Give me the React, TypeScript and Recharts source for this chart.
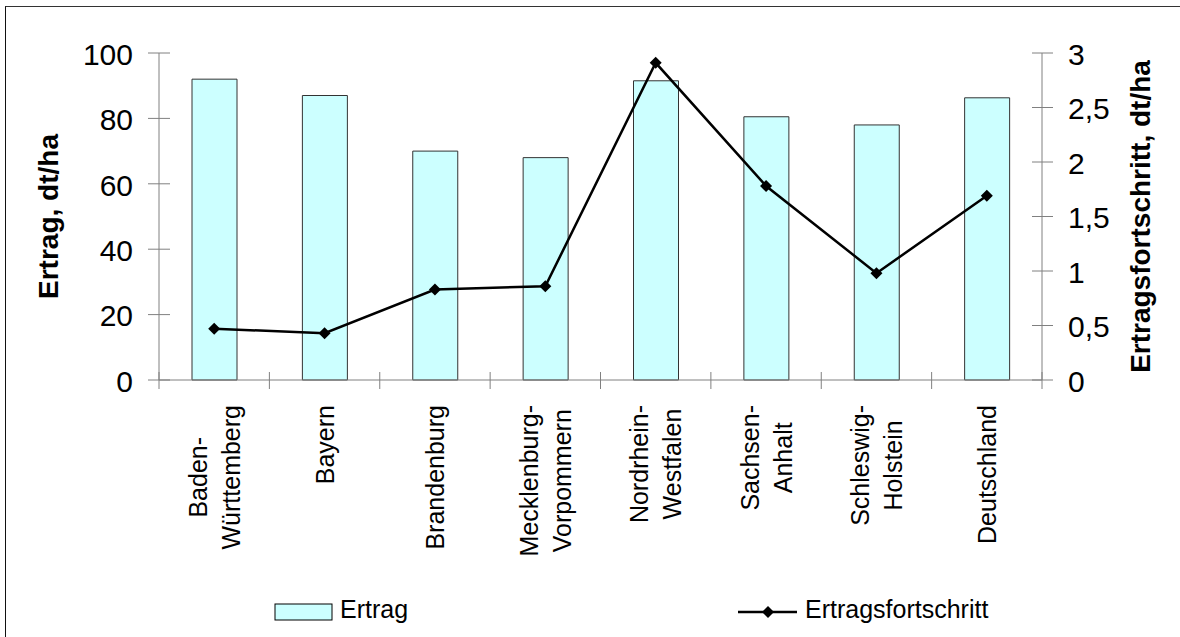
import React from 'react';
import {ComposedChart, Bar, Line, XAxis, YAxis, Legend} from 'recharts';

const states = [
    'Baden-Württemberg',
    'Bayern',
    'Brandenburg',
    'Mecklenburg-Vorpommern',
    'Nordrhein-Westfalen',
    'Sachsen-Anhalt',
    'Schleswig-Holstein',
    'Deutschland',
];
const ertrag = [92, 87, 70, 68, 91.5, 80.5, 78, 86.3];
const fortschritt = [0.47, 0.43, 0.83, 0.86, 2.91, 1.78, 0.98, 1.69];
const leftTicks = [0, 20, 40, 60, 80, 100];
const rightTicks = [0, 0.5, 1, 1.5, 2, 2.5, 3];

const W = 1180;
const H = 637;
const PLOT_LEFT = 159;
const PLOT_RIGHT = 1042;
const PLOT_TOP = 53;
const PLOT_BOTTOM = 380;
const BAND = (PLOT_RIGHT - PLOT_LEFT) / states.length;
const FONT = '"Liberation Sans", Arial, sans-serif';
const AXIS_COLOR = '#808080';
const TICK_FONT = 30;

const data = states.map((name, i) => ({name, ertrag: ertrag[i], fortschritt: fortschritt[i]}));

const fmt = (v: number) => String(v).replace('.', ',');

let canvas: HTMLCanvasElement | null = null;
const measure = (text: string, size: number) => {
    if (!canvas) canvas = document.createElement('canvas');
    const ctx = canvas.getContext('2d')!;
    ctx.font = `${size}px "Liberation Sans"`;
    return ctx.measureText(text).width;
};

const LeftTick = (props: any) => {
    const {y, payload} = props;
    return (
        <g>
            <line x1={PLOT_LEFT - 11} x2={PLOT_LEFT + 11} y1={y} y2={y} stroke={AXIS_COLOR} strokeWidth={1}/>
            <text x={PLOT_LEFT - 26} y={y + 1} dy="0.36em" textAnchor="end" fontSize={TICK_FONT} fontFamily={FONT} fill="#000">
                {payload.value}
            </text>
        </g>
    );
};

const RightTick = (props: any) => {
    const {y, payload} = props;
    return (
        <g>
            <line x1={PLOT_RIGHT - 10} x2={PLOT_RIGHT + 11} y1={y} y2={y} stroke={AXIS_COLOR} strokeWidth={1}/>
            <text x={PLOT_RIGHT + 26} y={y + 1} dy="0.36em" textAnchor="start" fontSize={TICK_FONT} fontFamily={FONT} fill="#000">
                {fmt(payload.value)}
            </text>
        </g>
    );
};

const CategoryTick = (props: any) => {
    const {x, payload, index} = props;
    const lines: string[] = String(payload.value).split(/(?<=-)/);
    const size = 25;
    const longest = Math.max(...lines.map(l => measure(l, size)));
    const cy = 405 + longest / 2;
    const spacing = 33;
    const left = x - BAND / 2;
    return (
        <g>
            <line x1={left} x2={left} y1={PLOT_BOTTOM - 8} y2={PLOT_BOTTOM + 9} stroke={AXIS_COLOR}/>
            {index === states.length - 1 && (
                <line x1={x + BAND / 2} x2={x + BAND / 2} y1={PLOT_BOTTOM - 8} y2={PLOT_BOTTOM + 9} stroke={AXIS_COLOR}/>
            )}
            {lines.map((l, i) => {
                const lx = x + (i - (lines.length - 1) / 2) * spacing;
                return (
                    <text key={i} transform={`translate(${lx},${cy}) rotate(-90)`} textAnchor="middle"
                          dominantBaseline="central" fontSize={size} fontFamily={FONT} fill="#000">
                        {l}
                    </text>
                );
            })}
        </g>
    );
};

const Diamond = (props: any) => {
    const {cx, cy} = props;
    if (cx == null || cy == null) return null;
    const r = 6;
    return <polygon points={`${cx},${cy - r} ${cx + r},${cy} ${cx},${cy + r} ${cx - r},${cy}`} fill="#000"/>;
};

const LegendContent = () => (
    <svg width={W} height={H} style={{position: 'absolute', left: 0, top: 0}}>
        <rect x={275} y={604} width={57} height={16} fill="#ccffff" stroke="#000" strokeWidth={1}/>
        <text x={340} y={618} fontSize={25} fontFamily={FONT} fill="#000">Ertrag</text>
        <line x1={738} x2={797} y1={612} y2={612} stroke="#000" strokeWidth={2.5}/>
        <Diamond cx={768} cy={612}/>
        <text x={805} y={618} fontSize={25} fontFamily={FONT} fill="#000">Ertragsfortschritt</text>
    </svg>
);

export default function App() {
    return (
        <div style={{position: 'absolute', left: 0, top: 0, width: W, height: H, overflow: 'hidden', background: '#fff'}}>
            <div style={{
                position: 'absolute', left: 5, top: 6, width: 1400, height: 900,
                borderLeft: '1px solid #111', borderTop: '1px solid #333'
            }}/>
            <ComposedChart
                width={W}
                height={H}
                data={data}
                margin={{top: PLOT_TOP, right: 0, bottom: 0, left: 0}}
            >
                <XAxis
                    dataKey="name"
                    height={H - PLOT_BOTTOM}
                    stroke={AXIS_COLOR}
                    tickLine={false}
                    tick={<CategoryTick/>}
                    interval={0}
                />
                <YAxis
                    yAxisId="left"
                    width={PLOT_LEFT}
                    domain={[0, 100]}
                    ticks={leftTicks}
                    stroke={AXIS_COLOR}
                    tickLine={false}
                    tick={<LeftTick/>}
                    label={{
                        value: 'Ertrag, dt/ha', angle: -90, position: 'insideLeft', offset: 48,
                        style: {fontSize: 28, fontWeight: 'bold', fontFamily: FONT, fill: '#000', textAnchor: 'middle'}
                    }}
                />
                <YAxis
                    yAxisId="right"
                    orientation="right"
                    width={W - PLOT_RIGHT}
                    domain={[0, 3]}
                    ticks={rightTicks}
                    stroke={AXIS_COLOR}
                    tickLine={false}
                    tick={<RightTick/>}
                    label={{
                        value: 'Ertragsfortschritt, dt/ha', angle: -90, position: 'insideRight', offset: 40,
                        style: {fontSize: 28, fontWeight: 'bold', fontFamily: FONT, fill: '#000', textAnchor: 'middle'}
                    }}
                />
                <Legend layout="horizontal" verticalAlign="middle" align="center"
                        wrapperStyle={{left: 0, top: 0, width: W, height: H, pointerEvents: 'none'}}
                        content={<LegendContent/>}/>
                <Bar
                    yAxisId="left"
                    dataKey="ertrag"
                    name="Ertrag"
                    barSize={45}
                    fill="#ccffff"
                    stroke="#333"
                    strokeWidth={1}
                    isAnimationActive={false}
                />
                <Line
                    yAxisId="right"
                    dataKey="fortschritt"
                    name="Ertragsfortschritt"
                    type="linear"
                    stroke="#000"
                    strokeWidth={2.5}
                    dot={<Diamond/>}
                    activeDot={false}
                    isAnimationActive={false}
                />
            </ComposedChart>
        </div>
    );
}
